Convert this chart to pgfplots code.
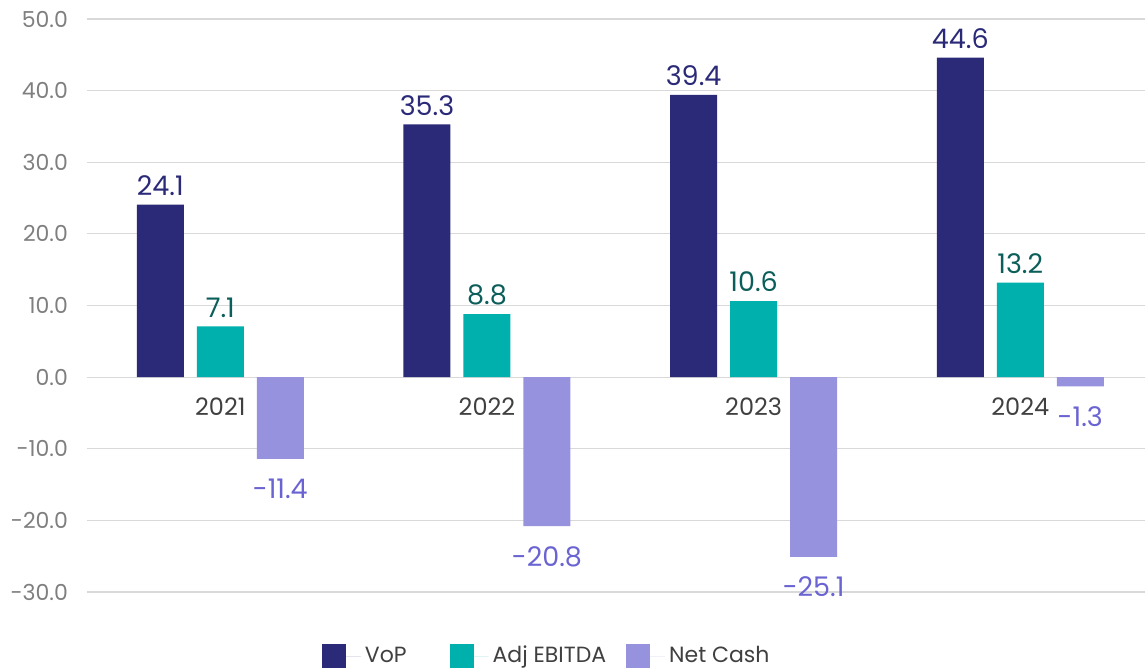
\documentclass[border=0pt]{standalone}
\usepackage{pgfplots}
\pgfplotsset{compat=1.18}
\usepackage{fontspec}
\setmainfont{Poppins}
\definecolor{vop}{HTML}{2B2A78}
\definecolor{ebitda}{HTML}{00B0AC}
\definecolor{netcash}{HTML}{9692DE}
\definecolor{vopl}{HTML}{2B2A78}
\definecolor{ebitdal}{HTML}{0B5E5A}
\definecolor{netcashl}{HTML}{6A63D2}
\definecolor{gridc}{HTML}{D9D9D9}
\definecolor{tickc}{HTML}{7F7F7F}
\definecolor{catc}{HTML}{404040}
\begin{document}
\begin{tikzpicture}
\begin{axis}[
  scale only axis,
  width=533.3pt, height=286.5pt,
  ybar=6.5pt, bar width=23.5pt,
  xmin=-0.5, xmax=3.5,
  ymin=-30, ymax=50,
  ytick={-30,-20,...,50},
  yticklabels={-30.0,-20.0,-10.0,0.0,10.0,20.0,30.0,40.0,50.0},
  xtick={0,1,2,3},
  xticklabels={2021,2022,2023,2024},
  axis x line*=middle,
  axis y line*=left,
  x axis line style={draw=gridc, line width=0.6pt, -},
  y axis line style={draw=none},
  major tick length=0pt,
  ymajorgrids,
  major grid style={draw=gridc, line width=0.6pt},
  yticklabel style={font=\fontsize{11}{13}\selectfont, text=tickc, xshift=-6pt},
  xticklabel style={font=\fontsize{12}{14}\selectfont, text=catc, yshift=-7pt},
  point meta=explicit symbolic,
  nodes near coords,
  nodes near coords style={font=\fontsize{13.5}{16}\selectfont},
  legend style={at={(0.432,0)}, anchor=center, yshift=-32pt, draw=none,
    font=\fontsize{11}{13}\selectfont, text=catc,
    /tikz/every even column/.append style={column sep=8pt}},
  legend columns=3,
  legend image code/.code={\fill[#1] (0pt,-6pt) rectangle (12pt,6pt); \path (0pt,0pt) -- (19.5pt,0pt);},
  legend cell align=left,
  clip=false,
]
\addplot[fill=vop, draw=none, every node near coord/.append style={text=vopl, yshift=1pt}] coordinates {(0,24.1) [24.1] (1,35.3) [35.3] (2,39.4) [39.4] (3,44.6) [44.6]};
\addplot[fill=ebitda, draw=none, every node near coord/.append style={text=ebitdal, yshift=1pt}] coordinates {(0,7.1) [7.1] (1,8.8) [8.8] (2,10.6) [10.6] (3,13.2) [13.2]};
\addplot[fill=netcash, draw=none, every node near coord/.append style={text=netcashl, anchor=north, yshift=-6.5pt}] coordinates {(0,-11.4) [-11.4] (1,-20.8) [-20.8] (2,-25.1) [-25.1] (3,-1.3) [-1.3]};
\legend{VoP\rule{11.5pt}{0pt}, Adj EBITDA, Net Cash}
\end{axis}
\pgfresetboundingbox
\useasboundingbox (-43.5pt,-38.5pt) rectangle (529pt,296pt);
\end{tikzpicture}
\end{document}
